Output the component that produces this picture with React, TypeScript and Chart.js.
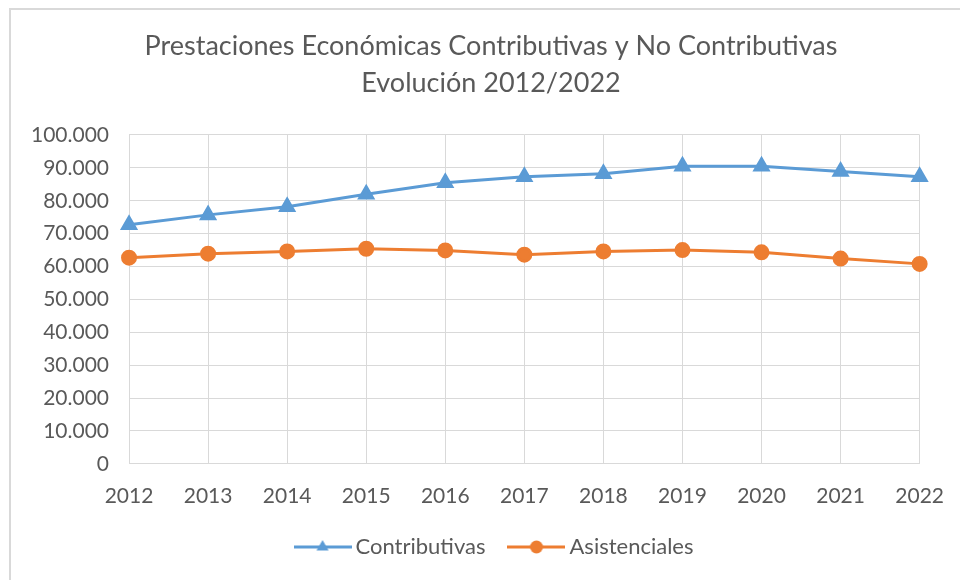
import React, { useEffect, useRef } from "react";
import { Chart, registerables } from "chart.js";

Chart.register(...registerables);

const years = ["2012", "2013", "2014", "2015", "2016", "2017", "2018", "2019", "2020", "2021", "2022"];
const contributivas = [72700, 75700, 78200, 82000, 85500, 87300, 88200, 90500, 90500, 88900, 87300];
const asistenciales = [62700, 63900, 64600, 65400, 64900, 63600, 64600, 65000, 64300, 62400, 60800];
const titleLines = ["Prestaciones Económicas Contributivas y No Contributivas", "Evolución 2012/2022"];
const seriesNames = ["Contributivas", "Asistenciales"];

const BLUE = "#5B9BD5";
const ORANGE = "#ED7D31";
const TEXT = "#595959";
const GRID = "#D9D9D9";
const FONT = "Lato, 'Open Sans', sans-serif";

function fmt(v: number): string {
  const s = Math.round(v).toString();
  return s.replace(/\B(?=(\d{3})+(?!\d))/g, ".");
}

function legendIcon(color: string, kind: "triangle" | "circle"): HTMLCanvasElement {
  const c = document.createElement("canvas");
  c.width = 58;
  c.height = 18;
  const ctx = c.getContext("2d")!;
  ctx.strokeStyle = color;
  ctx.lineWidth = 3;
  ctx.beginPath();
  ctx.moveTo(0, 9);
  ctx.lineTo(58, 9);
  ctx.stroke();
  ctx.fillStyle = color;
  ctx.beginPath();
  if (kind === "triangle") {
    const r = 7;
    ctx.moveTo(29, 9 - r);
    ctx.lineTo(29 + r * 0.866, 9 + r / 2);
    ctx.lineTo(29 - r * 0.866, 9 + r / 2);
    ctx.closePath();
  } else {
    ctx.arc(29, 9, 6.5, 0, Math.PI * 2);
  }
  ctx.fill();
  return c;
}

const shiftBoxes = {
  id: "shiftBoxes",
  afterLayout(chart: any) {
    if (chart.titleBlock) {
      chart.titleBlock.left += 10;
      chart.titleBlock.right += 10;
    }
    if (chart.legend) {
      chart.legend.left += 16;
      chart.legend.right += 16;
    }
  },
};

export default function App() {
  const ref = useRef<HTMLCanvasElement>(null);

  useEffect(() => {
    if (!ref.current) return;
    const icons = [legendIcon(BLUE, "triangle"), legendIcon(ORANGE, "circle")];
    const chart = new Chart(ref.current, {
      type: "line",
      data: {
        labels: years,
        datasets: [
          {
            label: seriesNames[0],
            data: contributivas,
            borderColor: BLUE,
            backgroundColor: BLUE,
            borderWidth: 3,
            pointStyle: "triangle",
            pointRadius: 7.5,
            pointHoverRadius: 7.5,
            tension: 0,
          },
          {
            label: seriesNames[1],
            data: asistenciales,
            borderColor: ORANGE,
            backgroundColor: ORANGE,
            borderWidth: 3,
            pointStyle: "circle",
            pointRadius: 6.5,
            pointHoverRadius: 6.5,
            tension: 0,
          },
        ],
      },
      plugins: [shiftBoxes],
      options: {
        animation: false,
        responsive: false,
        maintainAspectRatio: false,
        layout: { padding: { left: 11, right: 9, top: 28, bottom: 12 } },
        plugins: {
          tooltip: { enabled: false },
          title: {
            display: true,
            text: titleLines,
            color: TEXT,
            font: { family: FONT, size: 27, weight: "normal", lineHeight: 1.37 },
            padding: { top: 0, bottom: 33 },
          },
          legend: {
            position: "bottom",
            labels: {
              usePointStyle: true,
              pointStyleWidth: 44,
              boxHeight: 18,
              color: TEXT,
              font: { family: FONT, size: 22 },
              padding: 29,
              generateLabels: (ch: any) =>
                ch.data.datasets.map((ds: any, i: number) => ({
                  text: ds.label,
                  pointStyle: icons[i],
                  fillStyle: ds.borderColor,
                  strokeStyle: ds.borderColor,
                  lineWidth: 0,
                  hidden: false,
                  datasetIndex: i,
                  fontColor: TEXT,
                })),
            },
          },
        },
        scales: {
          x: {
            offset: false,
            grid: { color: GRID, drawTicks: false, lineWidth: 1 },
            border: { color: GRID },
            ticks: { color: TEXT, font: { family: FONT, size: 21 }, padding: 20, maxRotation: 0 },
            afterFit: (scale: any) => {
              scale.height -= 22;
              scale.paddingRight = Math.max(0, scale.paddingRight - 4);
            },
          },
          y: {
            min: 0,
            max: 100000,
            grid: { color: GRID, drawTicks: false, lineWidth: 1 },
            border: { color: GRID },
            ticks: {
              stepSize: 10000,
              color: TEXT,
              font: { family: FONT, size: 21 },
              padding: 20,
              callback: (v: any) => fmt(Number(v)),
            },
          },
        },
      },
    });
    return () => chart.destroy();
  }, []);

  return (
    <div style={{ position: "fixed", left: 0, top: 0, width: 960, height: 580, background: "#fff" }}>
      <div
        style={{
          position: "absolute",
          left: 9,
          top: 8,
          right: 0,
          bottom: 0,
          borderLeft: "2px solid #D9D9D9",
          borderTop: "2px solid #D9D9D9",
        }}
      />
      <canvas ref={ref} width={960} height={580} style={{ position: "absolute", left: 0, top: 0 }} />
    </div>
  );
}
